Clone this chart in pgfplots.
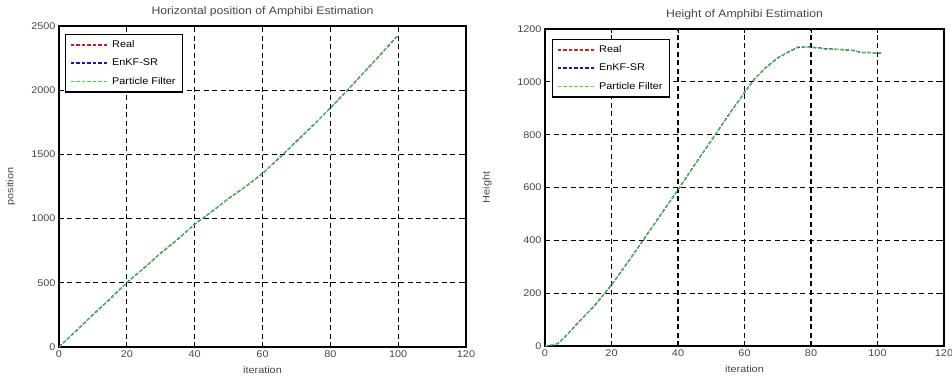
\documentclass[border=0pt]{standalone}
\usepackage{fontspec}
\setmainfont[FakeStretch=1.12]{Liberation Sans}
\usepackage{pgfplots}
\pgfplotsset{compat=1.18}
\definecolor{realred}{RGB}{210,30,30}
\definecolor{enkfblue}{RGB}{20,20,200}
\definecolor{pfgreen}{RGB}{60,225,60}
\definecolor{txt}{RGB}{70,70,70}
\pgfplotsset{
  mystyle/.style={
    scale only axis,
    anchor=south west,
    xmin=0, xmax=120,
    xtick distance=20,
    axis line style={black, line width=1.2pt},
    tick align=inside,
    major tick length=4pt,
    tick style={black, line width=0.8pt},
    grid=major,
    major grid style={black, line width=1.1pt, dash pattern=on 5pt off 3.5pt},
    /pgf/number format/assume math mode=true,
    /pgf/number format/1000 sep={},
    ticklabel style={font=\fontsize{9.7}{11}\selectfont, text=txt},
    label style={font=\fontsize{9.7}{11}\selectfont, text=txt},
    title style={font=\fontsize{10.9}{12}\selectfont, text=txt, at={(axis description cs:0.5,1)}, anchor=center, yshift=8pt},
    xlabel style={at={(axis description cs:0.5,0)}, anchor=center, yshift=-23pt},
    legend cell align=left,
    legend image code/.code={\draw[##1, line width=1.6pt] (0pt,0pt) -- (38pt,0pt);},
    legend style={font=\fontsize{9.7}{11}\selectfont, row sep=5pt, inner xsep=4.5pt, inner ysep=3.5pt,
      nodes={inner sep=2.5pt}},
    every axis legend/.append style={line width=1.2pt},
  },
  realst/.style={draw=realred, color=realred, line width=1.1pt, dash pattern=on 3.5pt off 2pt},
  enkfst/.style={draw=enkfblue, color=enkfblue, line width=1.1pt, dash pattern=on 3.5pt off 2pt},
  pfst/.style={draw=pfgreen, color=pfgreen, line width=1.1pt, dash pattern=on 3.5pt off 2pt},
}
\begin{document}
\begin{tikzpicture}[x=1pt,y=1pt]
\useasboundingbox (0,0) rectangle (952,380);
\begin{axis}[mystyle,
  at={(59pt,33pt)}, width=407pt, height=321pt,
  ymin=0, ymax=2500, ytick distance=500,
  title={Horizontal position of Amphibi Estimation},
  xlabel={iteration}, ylabel={position},
  ylabel style={at={(axis description cs:-0.118,0.5)}, anchor=center, rotate=0},
  legend style={at={(axis description cs:0,1)}, anchor=north west, xshift=6pt, yshift=-8pt},
]
\addplot[realst] coordinates {(0,0) (5,125) (10,250) (15,375) (20,500) (25,615) (30,730) (35,840) (40,955) (45,1055) (50,1155) (55,1250) (60,1350) (65,1475) (70,1600) (75,1730) (80,1860) (85,2000) (90,2140) (95,2285) (100,2430)};
\addlegendentry{Real}
\addplot[enkfst] coordinates {(0,2) (5,123) (10,252) (15,372) (20,502) (25,613) (30,732) (35,838) (40,957) (45,1053) (50,1157) (55,1248) (60,1352) (65,1473) (70,1602) (75,1728) (80,1862) (85,1998) (90,2142) (95,2283) (100,2428)};
\addlegendentry{EnKF-SR}
\addplot[pfst] coordinates {(0,0) (5,126) (10,249) (15,376) (20,499) (25,616) (30,729) (35,841) (40,954) (45,1056) (50,1154) (55,1251) (60,1349) (65,1476) (70,1599) (75,1731) (80,1859) (85,2001) (90,2139) (95,2286) (100,2432)};
\addlegendentry{Particle Filter}
\end{axis}
\begin{axis}[mystyle,
  at={(545pt,34pt)}, width=399pt, height=317pt,
  ymin=0, ymax=1200, ytick distance=200,
  title={Height of Amphibi Estimation},
  xlabel={iteration}, ylabel={Height},
  ylabel style={at={(axis description cs:-0.145,0.5)}, anchor=center, rotate=0},
  legend style={at={(axis description cs:0,1)}, anchor=north west, xshift=7pt, yshift=-10pt},
]
\addplot[realst] coordinates {(0,0) (2,2) (4,10) (6,35) (10,88) (15,155) (18,200) (20,232) (25,318) (30,410) (35,500) (40,592) (45,685) (50,778) (55,870) (60,960) (63,1010) (66,1050) (70,1090) (73,1112) (76,1130) (80,1132) (85,1124) (90,1122) (93,1118) (95,1110) (97,1112) (100,1108) (101,1109)};
\addlegendentry{Real}
\addplot[enkfst] coordinates {(0,1) (2,3) (4,11) (6,34) (10,89) (15,154) (18,201) (20,231) (25,319) (30,409) (35,501) (40,591) (45,686) (50,777) (55,871) (60,959) (63,1011) (66,1049) (70,1091) (73,1111) (76,1131) (80,1131) (85,1125) (90,1121) (93,1119) (95,1111) (97,1111) (100,1109) (101,1109)};
\addlegendentry{EnKF-SR}
\addplot[pfst] coordinates {(0,0) (2,4) (4,9) (6,36) (10,87) (15,156) (18,199) (20,233) (25,317) (30,411) (35,499) (40,593) (45,684) (50,779) (55,869) (60,961) (63,1009) (66,1051) (70,1089) (73,1113) (76,1132) (80,1130) (85,1123) (90,1123) (93,1117) (95,1112) (97,1110) (100,1110) (101,1110)};
\addlegendentry{Particle Filter}
\end{axis}
\end{tikzpicture}
\end{document}
